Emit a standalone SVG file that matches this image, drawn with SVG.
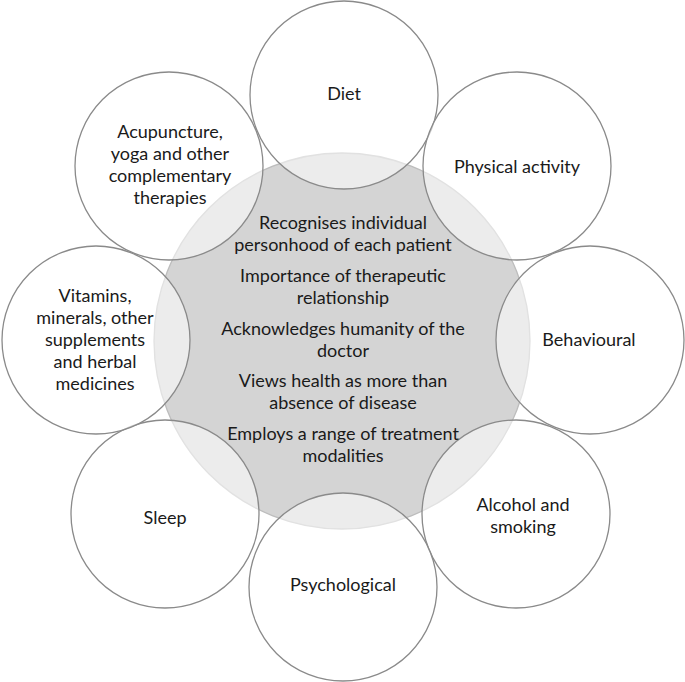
<svg xmlns="http://www.w3.org/2000/svg" width="685" height="682" viewBox="0 0 685 682">
<style>
.core{fill:#d4d4d4;stroke:#bdbdbd;stroke-width:1.3}
.sat{fill:#ffffff;fill-opacity:0.55;stroke:#8a8a8a;stroke-width:1.3}
text{font-family:Lato,"Open Sans","Liberation Sans",sans-serif;font-size:18px;fill:#1a1a1a;text-anchor:middle}
</style>
<rect width="685" height="682" fill="#ffffff"/>
<g id="core">
<circle class="core" cx="342" cy="341" r="188"/>
</g>
<g id="connectors"></g>
<g id="diet"><circle class="sat" cx="344" cy="95" r="94"/></g>
<g id="physical"><circle class="sat" cx="517" cy="166" r="94"/></g>
<g id="behavioural"><circle class="sat" cx="590" cy="340" r="94"/></g>
<g id="alcohol"><circle class="sat" cx="516" cy="514" r="94"/></g>
<g id="psychological"><circle class="sat" cx="343" cy="587" r="94"/></g>
<g id="sleep"><circle class="sat" cx="165" cy="514" r="94"/></g>
<g id="vitamins"><circle class="sat" cx="96" cy="340" r="94"/></g>
<g id="acupuncture"><circle class="sat" cx="169" cy="166" r="94"/></g>
<g id="core-text">
<text x="343" y="229">Recognises individual</text>
<text x="343" y="251">personhood of each patient</text>
<text x="343" y="282">Importance of therapeutic</text>
<text x="343" y="304">relationship</text>
<text x="343" y="335">Acknowledges humanity of the</text>
<text x="343" y="357">doctor</text>
<text x="343" y="387">Views health as more than</text>
<text x="343" y="409">absence of disease</text>
<text x="343" y="440">Employs a range of treatment</text>
<text x="343" y="462">modalities</text>
</g>
<g id="labels">
<text x="344" y="100">Diet</text>
<text x="517" y="173">Physical activity</text>
<text x="589" y="346">Behavioural</text>
<text x="523" y="511">Alcohol and</text>
<text x="523" y="533">smoking</text>
<text x="343" y="591">Psychological</text>
<text x="165" y="524">Sleep</text>
<text x="95" y="302">Vitamins,</text>
<text x="95" y="324">minerals, other</text>
<text x="95" y="346">supplements</text>
<text x="95" y="368">and herbal</text>
<text x="95" y="390">medicines</text>
<text x="170" y="138">Acupuncture,</text>
<text x="170" y="160">yoga and other</text>
<text x="170" y="182">complementary</text>
<text x="170" y="204">therapies</text>
</g>
</svg>
